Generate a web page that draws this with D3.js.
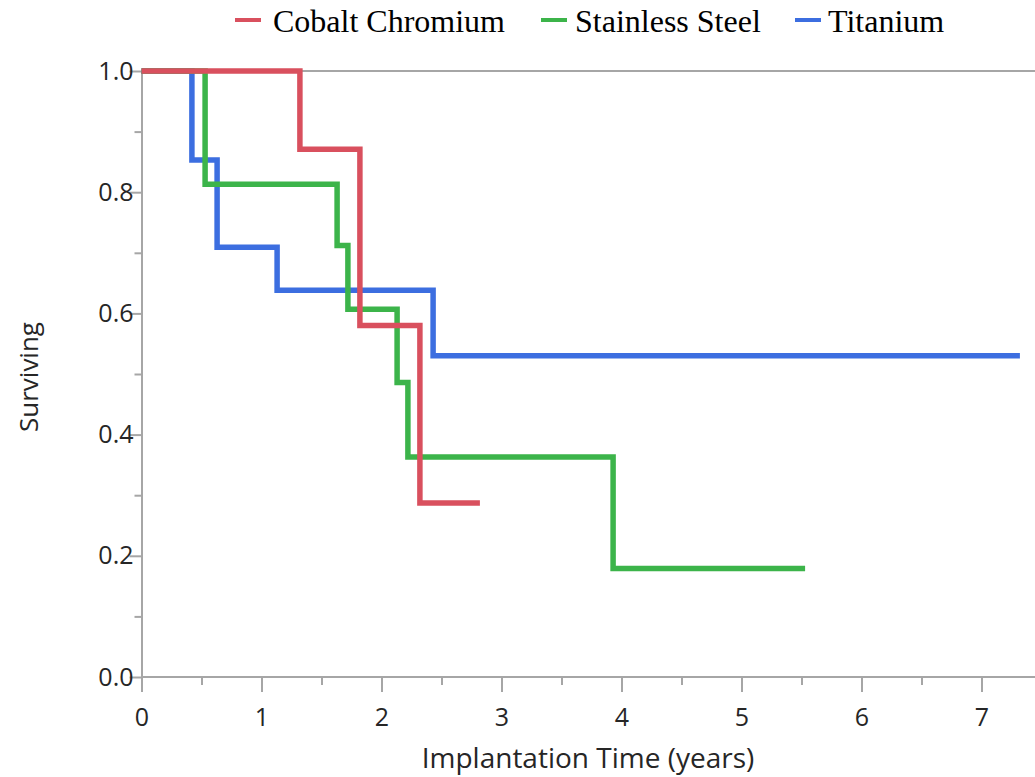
<!DOCTYPE html>
<html>
<head>
<meta charset="utf-8">
<script src="https://cdn.jsdelivr.net/npm/d3@7"></script>
<style>
  body { margin: 0; background: #fff; }
  svg { display: block; }
</style>
</head>
<body>
<div id="chart"></div>
<script>
// step points: [time, surviving]
var cobaltTimes = [0, 1.32, 1.82, 2.32, 2.82]
var cobaltValues = [1.0, 0.871, 0.580, 0.287, 0.287]

var steelTimes = [0, 0.53, 1.63, 1.72, 2.13, 2.22, 3.93, 5.53]
var steelValues = [1.0, 0.813, 0.712, 0.607, 0.486, 0.363, 0.179, 0.179]

var titaniumTimes = [0, 0.42, 0.63, 1.13, 2.43, 7.32]
var titaniumValues = [1.0, 0.853, 0.709, 0.638, 0.530, 0.530]

var seriesNames = ["Cobalt Chromium", "Stainless Steel", "Titanium"]
var seriesColors = ["#d9505e", "#3cb44a", "#3c6ee0"]

var xTicks = [0, 1, 2, 3, 4, 5, 6, 7]
var yTicks = [0, 0.2, 0.4, 0.6, 0.8, 1.0]

var width = 1035, height = 777
var plotLeft = 141.5, plotTop = 71, plotBottom = 677

var svg = d3.select("#chart").append("svg")
  .attr("width", width)
  .attr("height", height)

var x = d3.scaleLinear().domain([0, 7.45]).range([plotLeft, plotLeft + 7.45 * 120])
var y = d3.scaleLinear().domain([0, 1]).range([plotBottom, plotTop])

var axisColor = "#a6a6a6"
var tickFont = "'Open Sans', sans-serif"
var textColor = "#262626"

// top frame line
svg.append("line")
  .attr("x1", plotLeft).attr("x2", width)
  .attr("y1", y(1)).attr("y2", y(1))
  .attr("stroke", axisColor).attr("stroke-width", 2)

// x axis
var xAxis = svg.append("g")
  .attr("transform", "translate(0," + plotBottom + ")")
  .call(d3.axisBottom(x).tickValues(xTicks).tickFormat(d3.format("d")).tickSize(15).tickSizeOuter(0))
xAxis.select(".domain").remove()
xAxis.append("line")
  .attr("x1", plotLeft).attr("x2", width)
  .attr("stroke", axisColor).attr("stroke-width", 2)
xAxis.selectAll(".tick line").attr("stroke", axisColor).attr("stroke-width", 2)
xAxis.selectAll(".tick text")
  .attr("dy", "0.71em")
  .attr("y", 31)
  .style("font-family", tickFont).style("font-size", "25px").attr("fill", textColor)
svg.append("g")
  .attr("transform", "translate(0," + plotBottom + ")")
  .call(d3.axisBottom(x).tickValues(d3.range(0.5, 7.5, 1)).tickFormat("").tickSize(8).tickSizeOuter(0))
  .call(function(g) {
    g.select(".domain").remove()
    g.selectAll(".tick line").attr("stroke", axisColor).attr("stroke-width", 2)
  })

// y axis
var yAxis = svg.append("g")
  .attr("transform", "translate(" + plotLeft + ",0)")
  .call(d3.axisLeft(y).tickValues(yTicks).tickFormat(d3.format(".1f")).tickSize(12).tickSizeOuter(0))
yAxis.select(".domain").attr("stroke", axisColor).attr("stroke-width", 2)
yAxis.selectAll(".tick line").attr("stroke", axisColor).attr("stroke-width", 2)
yAxis.selectAll(".tick text")
  .attr("x", -8)
  .style("font-family", tickFont).style("font-size", "25px").attr("fill", textColor)
svg.append("g")
  .attr("transform", "translate(" + plotLeft + ",0)")
  .call(d3.axisLeft(y).tickValues([0.1, 0.3, 0.5, 0.7, 0.9]).tickFormat("").tickSize(7).tickSizeOuter(0))
  .call(function(g) {
    g.select(".domain").remove()
    g.selectAll(".tick line").attr("stroke", axisColor).attr("stroke-width", 2)
  })

// axis titles
svg.append("text")
  .attr("x", 588).attr("y", 768)
  .attr("text-anchor", "middle")
  .style("font-family", tickFont).style("font-size", "28px")
  .attr("fill", textColor)
  .text("Implantation Time (years)")

svg.append("text")
  .attr("transform", "translate(38,377) rotate(-90)")
  .attr("text-anchor", "middle")
  .style("font-family", tickFont).style("font-size", "26px")
  .attr("fill", textColor)
  .text("Surviving")

// survival curves
var series = [
  { times: cobaltTimes, values: cobaltValues },
  { times: steelTimes, values: steelValues },
  { times: titaniumTimes, values: titaniumValues }
]

var line = d3.line()
  .x(function(d) { return x(d[0]) })
  .y(function(d) { return y(d[1]) })
  .curve(d3.curveStepAfter)

// draw in reverse order so red sits on top
series.slice().reverse().forEach(function(s, j) {
  var i = series.length - 1 - j
  var pts = s.times.map(function(t, k) { return [t, s.values[k]] })
  svg.append("path")
    .datum(pts)
    .attr("d", line)
    .attr("fill", "none")
    .attr("stroke", seriesColors[i])
    .attr("stroke-width", 5.5)
    .attr("stroke-linejoin", "miter")
})

// legend
var legendX = [235, 541, 795]
var legendGap = [38, 34, 33]
var legend = svg.selectAll(".legend")
  .data(seriesNames)
  .enter().append("g")
  .attr("class", "legend")
  .attr("transform", function(d, i) { return "translate(" + legendX[i] + ",20)" })

legend.append("line")
  .attr("x1", 0).attr("x2", 26)
  .attr("stroke", function(d, i) { return seriesColors[i] })
  .attr("stroke-width", 4)

legend.append("text")
  .attr("x", function(d, i) { return legendGap[i] }).attr("y", 12)
  .style("font-family", "'Liberation Serif', 'Times New Roman', serif")
  .style("font-size", "32px")
  .attr("fill", "#000")
  .text(function(d) { return d })
</script>
</body>
</html>
